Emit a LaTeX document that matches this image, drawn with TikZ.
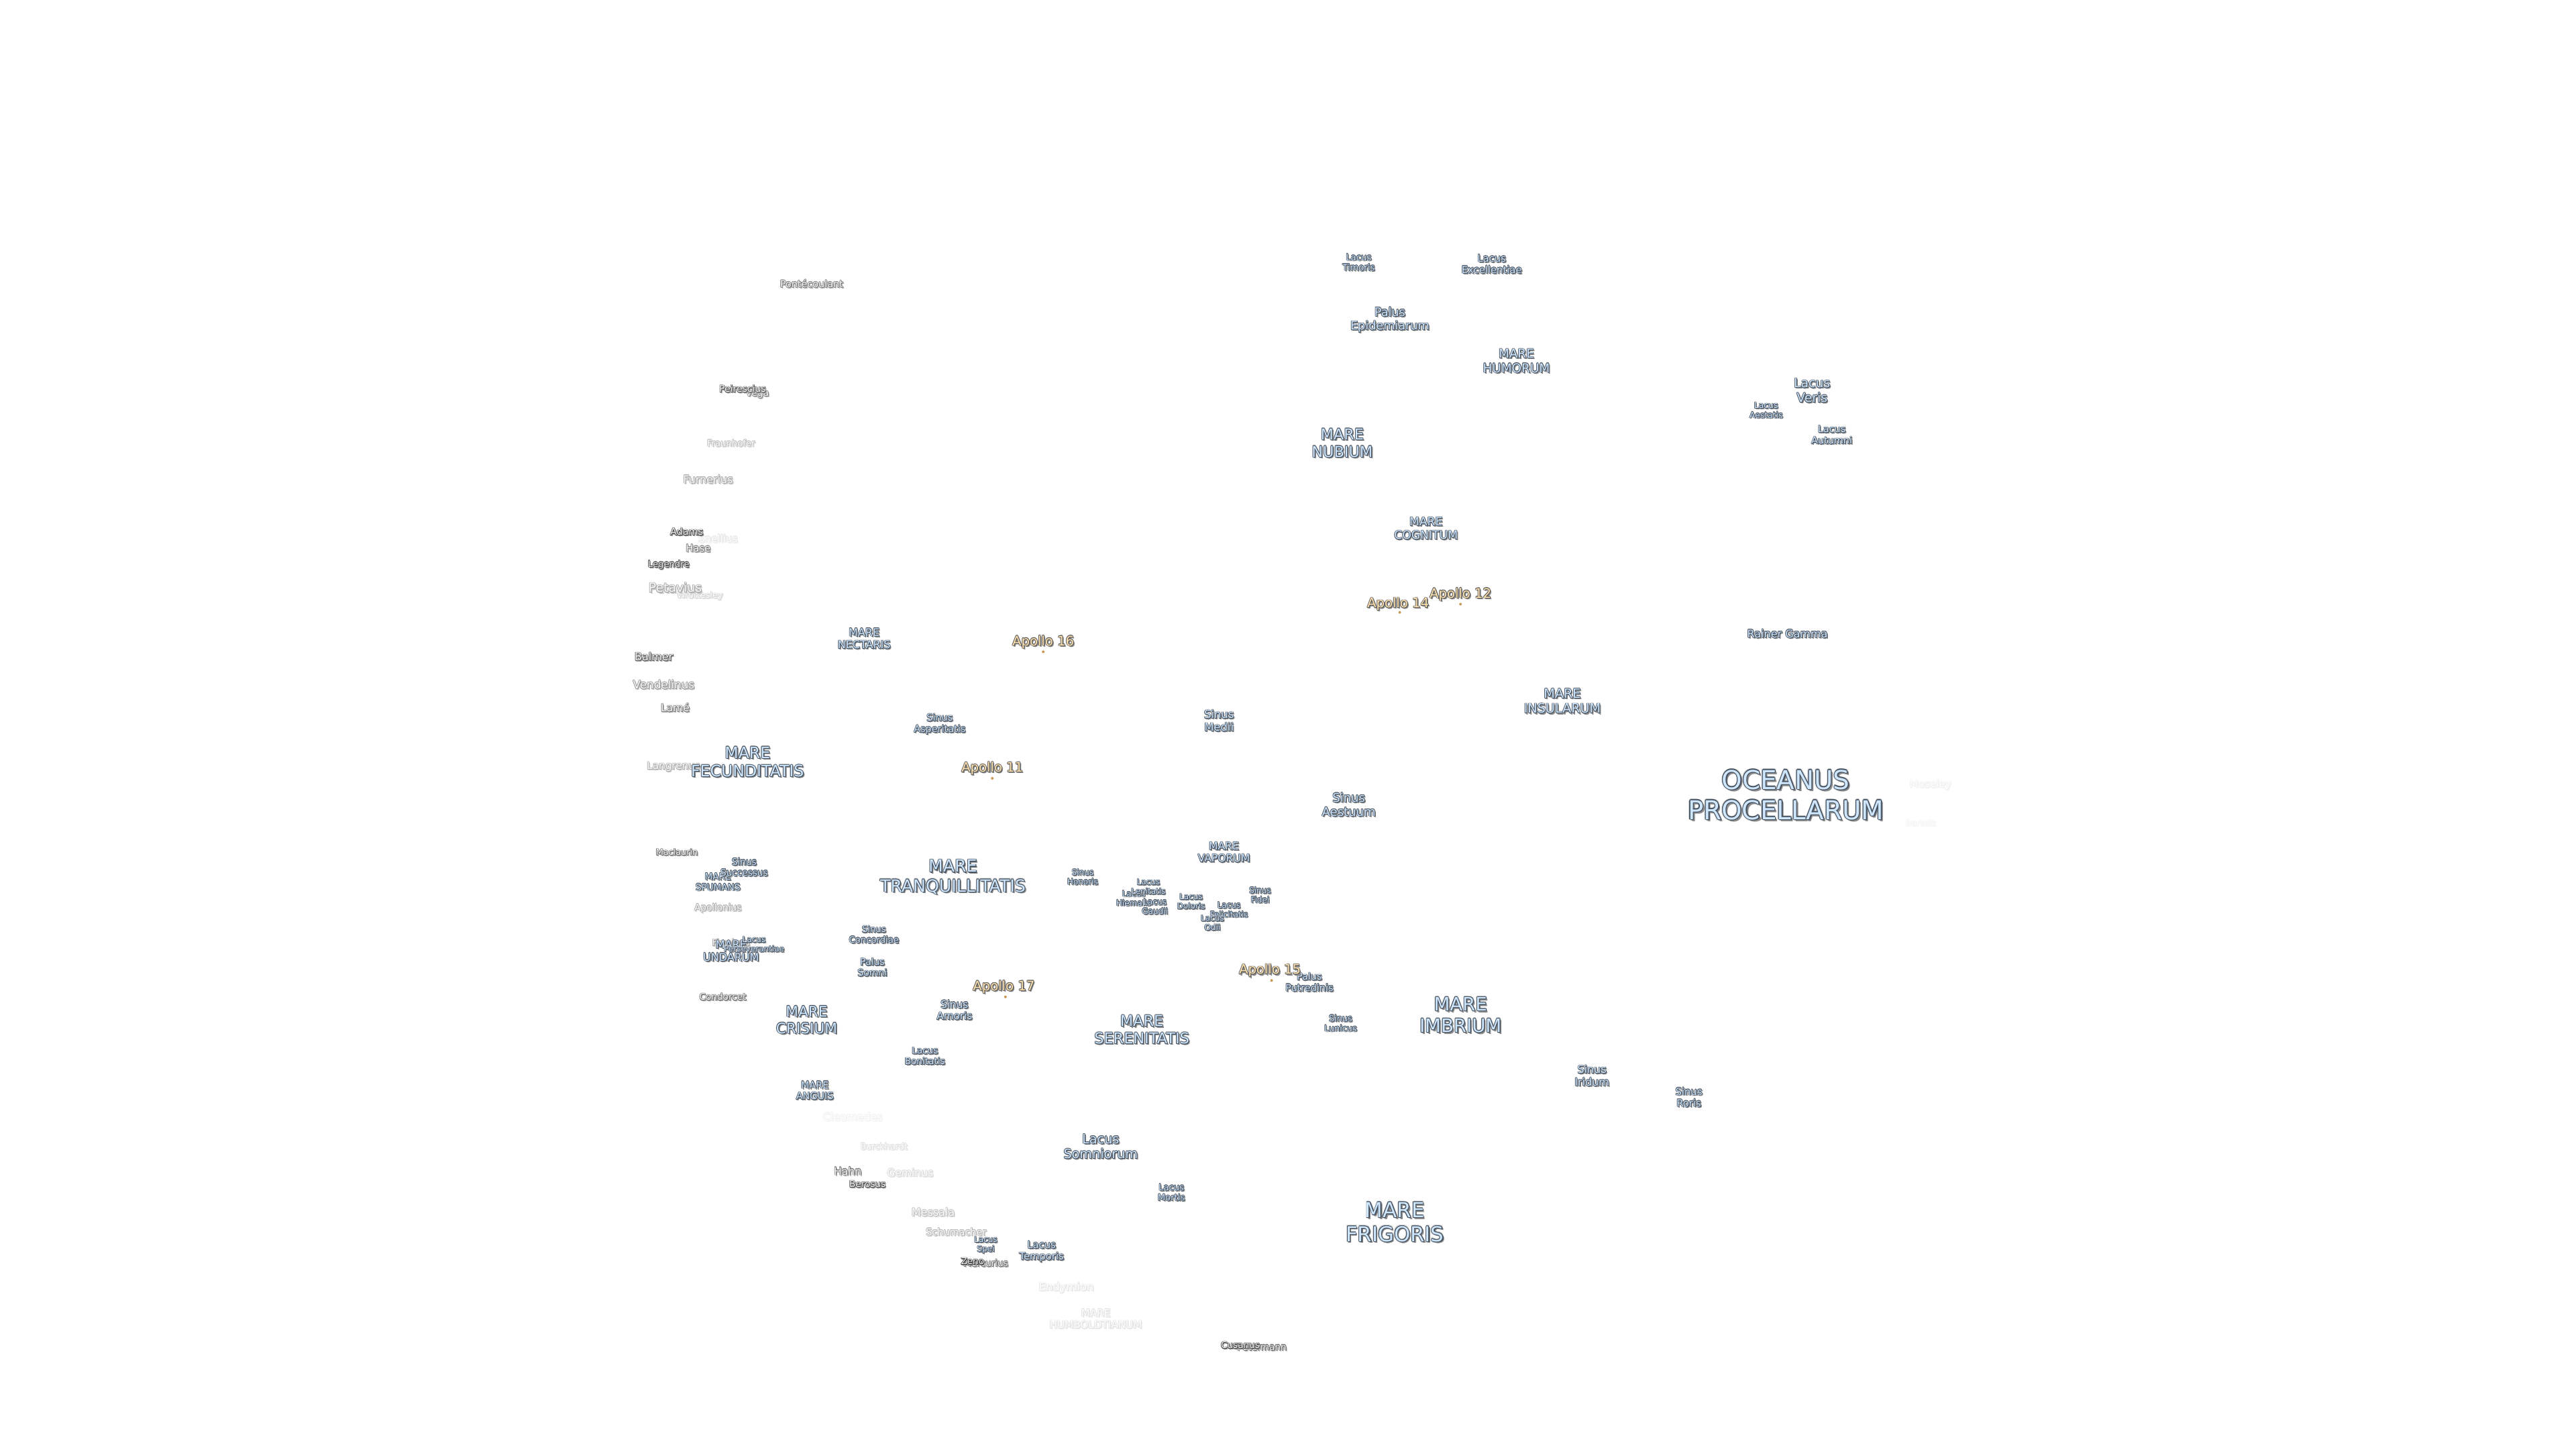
\documentclass[tikz,border=0pt]{standalone}
\usepackage{fontspec}
\setmainfont{DejaVu Sans}
\definecolor{fmare}{HTML}{CFE6FF}
\definecolor{emare}{HTML}{46525F}
\definecolor{fapo}{HTML}{FFE2AE}
\definecolor{eapo}{HTML}{5C5C5C}
\definecolor{fcrat}{HTML}{F4F4F4}
\definecolor{ecrat}{HTML}{303030}
\definecolor{dotc}{HTML}{C89A55}
\tikzset{labeltext/.style={inner sep=0pt,outer sep=0pt,align=center,anchor=center},
  landing/.style={circle,inner sep=0pt,minimum size=1pt,fill=dotc}}
% \lbl{name}{x}{y}{size pt}{strength 0-100}{kind}{text}
\newcommand{\lbl}[7]{%
  \pgfmathsetmacro{\lsk}{#4*1.16}%
  \pgfmathsetmacro{\rr}{0.02*#4+0.08}%
  \pgfmathsetmacro{\ss}{0.05*#4+0.3}%
  \colorlet{cfill}{f#6!#5!white}%
  \colorlet{cedge}{e#6!#5!white}%
  \colorlet{cshad}{black!#5!white}%
  \colorlet{chalo}{cshad!16!white}%
  \colorlet{cmid}{cshad!45!white}%
  \foreach \k/\dx/\dy in {n/2.2/-2.2,o/2.2/0,p/-1.8/0,q/0/1.8,r/0/-2.2,s/1.6/1.4,t/-1.4/1.4,u/-1.4/-1.6}{%
    \node[labeltext,name=#1-\k,text=chalo,font=\fontsize{#4}{\lsk}\selectfont,
      xshift={\dx*\rr*1pt},yshift={\dy*\rr*1pt}] at (#2,#3) {#7};}%
  \foreach \k/\q in {a/1.0,b/0.7}{%
    \node[labeltext,name=#1-\k,text=cmid,font=\fontsize{#4}{\lsk}\selectfont,
      xshift={\q*\ss*1pt},yshift={-\q*\ss*1pt}] at (#2,#3) {#7};}%
  \foreach \k/\dx/\dy in {c/1/0,d/-1/0,e/0/1,f/0/-1,g/.7/.7,h/-.7/.7,i/.7/-.7,j/-.7/-.7,m/1.4/-1.4}{%
    \node[labeltext,name=#1-\k,text=cedge,font=\fontsize{#4}{\lsk}\selectfont,
      xshift={\dx*\rr*1pt},yshift={\dy*\rr*1pt}] at (#2,#3) {#7};}%
  \node[labeltext,name=#1,text=cfill,font=\fontsize{#4}{\lsk}\selectfont] at (#2,#3) {#7};%
}
\begin{document}
\begin{tikzpicture}[x=0.61224pt,y=-0.61224pt]
\useasboundingbox (0,0) rectangle (1568,882.1);
\begin{scope}[yshift=-0.4pt]
% faint craters first
\lbl{bartels}{1169}{500}{3.2}{5}{crat}{Bartels}
\lbl{moseley}{1175}{477}{3.8}{7}{crat}{Moseley}
\lbl{cleomedes}{519}{679}{4}{6}{crat}{Cleomedes}
\lbl{endymion}{649}{783}{4.1}{12}{crat}{Endymion}
\lbl{humboldt}{667}{802}{3.8}{14}{crat}{MARE\\HUMBOLDTIANUM}
\lbl{snellius}{437}{327}{3.8}{12}{crat}{Snellius}
\lbl{burckhardt}{538}{697}{3.2}{15}{crat}{Burckhardt}
\lbl{geminus}{554}{713}{3.9}{18}{crat}{Geminus}
\lbl{wrottesley}{426}{362}{3.2}{20}{crat}{Wrottesley}
\lbl{fraunhofer}{445}{269}{3.3}{30}{crat}{Fraunhofer}
\lbl{messala}{568}{737}{4}{30}{crat}{Messala}
\lbl{schumacher}{582}{749}{3.6}{35}{crat}{Schumacher}
\lbl{langrenus}{410}{466}{3.8}{40}{crat}{Langrenus}
\lbl{apollonius}{437}{552}{3.4}{40}{crat}{Apollonius}
\lbl{furnerius}{431}{291}{4}{42}{crat}{Furnerius}
\lbl{petavius}{411}{357}{4.7}{45}{crat}{Petavius}
\lbl{vendelinus}{404}{416}{4.2}{50}{crat}{Vendelinus}
\lbl{firmicus}{445}{573}{3.4}{50}{crat}{Firmicus}
\lbl{vega}{461}{239}{3.5}{60}{crat}{Vega}
\lbl{hase}{425}{333}{3.7}{60}{crat}{Hase}
\lbl{lame}{411}{430}{3.9}{65}{crat}{Lamé}
\lbl{pontecoulant}{494}{172}{3.6}{65}{crat}{Pontécoulant}
\lbl{maclaurin}{412}{518}{3.2}{70}{crat}{Maclaurin}
\lbl{condorcet}{440}{606}{3.4}{70}{crat}{Condorcet}
\lbl{hahn}{516}{712}{3.9}{70}{crat}{Hahn}
\lbl{mercurius}{600}{768}{3.4}{70}{crat}{Mercurius}
\lbl{petermann}{768}{819}{3.4}{75}{crat}{Petermann}
\lbl{balmer}{398}{399}{4}{80}{crat}{Balmer}
\lbl{peirescius}{452}{236}{3.5}{80}{crat}{Peirescius}
\lbl{berosus}{528}{720}{3.4}{85}{crat}{Berosus}
\lbl{adams}{418}{323}{3.6}{90}{crat}{Adams}
\lbl{legendre}{407}{343}{3.3}{90}{crat}{Legendre}
\lbl{cusanus}{755}{818}{3.4}{90}{crat}{Cusanus}
\lbl{zeno}{592}{767}{3.4}{100}{crat}{Zeno}
% maria, lacus, sinus, paludes
\lbl{timoris}{827}{159}{3.3}{100}{mare}{Lacus\\Timoris}
\lbl{excellentiae}{908}{160}{3.7}{100}{mare}{Lacus\\Excellentiae}
\lbl{epidemiarum}{846}{194}{4.4}{100}{mare}{Palus\\Epidemiarum}
\lbl{humorum}{923}{219}{4.6}{100}{mare}{MARE\\HUMORUM}
\lbl{veris}{1103}{237}{4.7}{100}{mare}{Lacus\\Veris}
\lbl{aestatis}{1075}{249}{3.1}{100}{mare}{Lacus\\Aestatis}
\lbl{autumni}{1115}{264}{3.6}{100}{mare}{Lacus\\Autumni}
\lbl{nubium}{817}{269}{5.6}{100}{mare}{MARE\\NUBIUM}
\lbl{cognitum}{868}{321}{4.3}{100}{mare}{MARE\\COGNITUM}
\lbl{rainer}{1088}{385}{4}{100}{mare}{Rainer Gamma}
\lbl{insularum}{951}{426}{4.8}{100}{mare}{MARE\\INSULARUM}
\lbl{medii}{742}{438}{4.1}{100}{mare}{Sinus\\Medii}
\lbl{aestuum}{821}{489}{4.5}{100}{mare}{Sinus\\Aestuum}
\lbl{oceanus}{1087}{483}{9.7}{100}{mare}{OCEANUS\\PROCELLARUM}
\lbl{vaporum}{745}{518}{3.9}{100}{mare}{MARE\\VAPORUM}
\lbl{honoris}{659}{533}{3}{100}{mare}{Sinus\\Honoris}
\lbl{hiemalis}{690}{546}{3}{100}{mare}{Lacus\\Hiemalis}
\lbl{lenitatis}{699}{539}{3}{100}{mare}{Lacus\\Lenitatis}
\lbl{gaudii}{703}{551}{3}{100}{mare}{Lacus\\Gaudii}
\lbl{doloris}{725}{548}{3}{100}{mare}{Lacus\\Doloris}
\lbl{felicitatis}{748}{553}{3}{100}{mare}{Lacus\\Felicitatis}
\lbl{odii}{738}{561}{3}{100}{mare}{Lacus\\Odii}
\lbl{fidei}{767}{544}{3}{100}{mare}{Sinus\\Fidei}
\lbl{putredinis}{797}{597}{3.6}{100}{mare}{Palus\\Putredinis}
\lbl{imbrium}{889}{617}{6.9}{100}{mare}{MARE\\IMBRIUM}
\lbl{lunicus}{816}{622}{3.2}{100}{mare}{Sinus\\Lunicus}
\lbl{serenitatis}{695}{626}{5.6}{100}{mare}{MARE\\SERENITATIS}
\lbl{iridum}{969}{654}{4}{100}{mare}{Sinus\\Iridum}
\lbl{roris}{1028}{667}{3.7}{100}{mare}{Sinus\\Roris}
\lbl{frigoris}{849}{743}{7.7}{100}{mare}{MARE\\FRIGORIS}
\lbl{mortis}{713}{725}{3.3}{100}{mare}{Lacus\\Mortis}
\lbl{somniorum}{670}{697}{4.8}{100}{mare}{Lacus\\Somniorum}
\lbl{temporis}{634}{761}{3.7}{100}{mare}{Lacus\\Temporis}
\lbl{spei}{600}{757}{3}{100}{mare}{Lacus\\Spei}
\lbl{anguis}{496}{663}{3.6}{100}{mare}{MARE\\ANGUIS}
\lbl{bonitatis}{563}{642}{3.4}{100}{mare}{Lacus\\Bonitatis}
\lbl{amoris}{581}{614}{3.8}{100}{mare}{Sinus\\Amoris}
\lbl{crisium}{491}{620}{5.4}{100}{mare}{MARE\\CRISIUM}
\lbl{somni}{531}{588}{3.5}{100}{mare}{Palus\\Somni}
\lbl{concordiae}{532}{568}{3.3}{100}{mare}{Sinus\\Concordiae}
\lbl{undarum}{445}{578}{4}{100}{mare}{MARE\\UNDARUM}
\lbl{perseverantiae}{459}{574}{3}{100}{mare}{Lacus\\Perseverantiae}
\lbl{spumans}{437}{536}{3.4}{100}{mare}{MARE\\SPUMANS}
\lbl{successus}{453}{527}{3.4}{100}{mare}{Sinus\\Successus}
\lbl{tranquillitatis}{580}{533}{6.3}{100}{mare}{MARE\\TRANQUILLITATIS}
\lbl{asperitatis}{572}{440}{3.6}{100}{mare}{Sinus\\Asperitatis}
\lbl{fecunditatis}{455}{463}{5.9}{100}{mare}{MARE\\FECUNDITATIS}
\lbl{nectaris}{526}{388}{4}{100}{mare}{MARE\\NECTARIS}
% Apollo sites
\node[landing] (d14) at (852,372) {};
\node[landing] (d12) at (889,367) {};
\node[landing] (d15) at (774,596) {};
\node[landing] (d17) at (612,606) {};
\node[landing] (d11) at (604,473) {};
\node[landing] (d16) at (635,396) {};
\lbl{apollo14}{851}{367}{4.9}{100}{apo}{Apollo 14}
\lbl{apollo12}{889}{361}{4.9}{100}{apo}{Apollo 12}
\lbl{apollo15}{773}{590}{4.9}{100}{apo}{Apollo 15}
\lbl{apollo17}{611}{600}{4.9}{100}{apo}{Apollo 17}
\lbl{apollo11}{604}{467}{4.9}{100}{apo}{Apollo 11}
\lbl{apollo16}{635}{390}{4.9}{100}{apo}{Apollo 16}
\end{scope}
\end{tikzpicture}
\end{document}
